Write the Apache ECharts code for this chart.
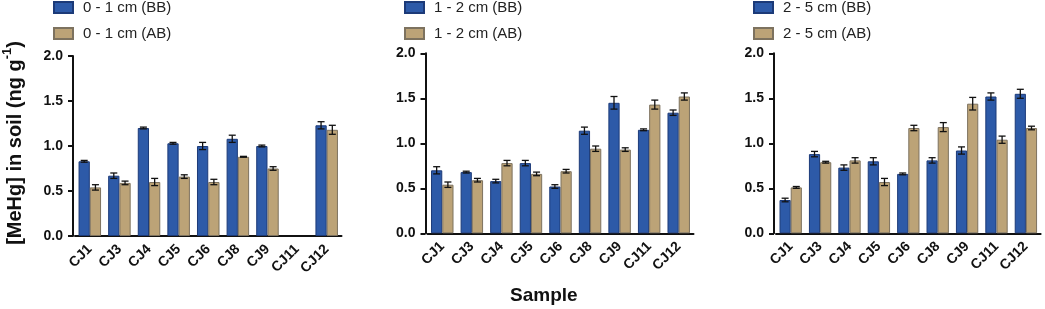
<!DOCTYPE html>
<html>
<head>
<meta charset="utf-8">
<script src="https://cdn.jsdelivr.net/npm/echarts@6/dist/echarts.min.js"></script>
<style>html,body{margin:0;padding:0;background:#fff}#c{width:1045px;height:309px}</style>
</head>
<body>
<div id="c"></div>
<script>
const categories = ['CJ1','CJ3','CJ4','CJ5','CJ6','CJ8','CJ9','CJ11','CJ12'];
const yTicks = [0, 0.5, 1.0, 1.5, 2.0];

const bb01    = [0.83, 0.67, 1.20, 1.03, 1.00, 1.08, 1.00, null, 1.23];
const bb01Err = [0.01, 0.03, 0.01, 0.01, 0.04, 0.04, 0.01, null, 0.04];
const ab01    = [0.54, 0.59, 0.60, 0.66, 0.60, 0.88, 0.75, null, 1.18];
const ab01Err = [0.03, 0.02, 0.04, 0.02, 0.03, 0.005, 0.02, null, 0.05];

const bb12    = [0.70, 0.68, 0.58, 0.78, 0.52, 1.14, 1.45, 1.15, 1.34];
const bb12Err = [0.04, 0.01, 0.02, 0.03, 0.02, 0.04, 0.07, 0.01, 0.03];
const ab12    = [0.54, 0.59, 0.78, 0.66, 0.69, 0.94, 0.93, 1.43, 1.52];
const ab12Err = [0.03, 0.02, 0.03, 0.02, 0.02, 0.03, 0.02, 0.05, 0.04];

const bb25    = [0.37, 0.88, 0.73, 0.80, 0.66, 0.81, 0.92, 1.52, 1.55];
const bb25Err = [0.02, 0.03, 0.03, 0.04, 0.01, 0.03, 0.04, 0.04, 0.05];
const ab25    = [0.51, 0.79, 0.81, 0.57, 1.17, 1.18, 1.44, 1.04, 1.17];
const ab25Err = [0.01, 0.01, 0.03, 0.04, 0.03, 0.05, 0.07, 0.04, 0.02];

const panels = [
  { bbName: '0 - 1 cm (BB)', abName: '0 - 1 cm (AB)', bb: bb01, bbErr: bb01Err, ab: ab01, abErr: ab01Err },
  { bbName: '1 - 2 cm (BB)', abName: '1 - 2 cm (AB)', bb: bb12, bbErr: bb12Err, ab: ab12, abErr: ab12Err },
  { bbName: '2 - 5 cm (BB)', abName: '2 - 5 cm (AB)', bb: bb25, bbErr: bb25Err, ab: ab25, abErr: ab25Err }
];

const FONT = '"Liberation Sans", Arial, Helvetica, sans-serif';
const BLUE = '#2d5aa8', BLUE_B = '#1c3a78';
const TAN = '#bca377', TAN_B = '#7d725f';
const GAP = 0.24;

const grids = [
  { left: 75, top: 56, width: 266.5, height: 180 },
  { left: 427.5, top: 53.3, width: 266, height: 180 },
  { left: 776, top: 53.3, width: 264.6, height: 180 }
];
const legendLeft = [53, 404, 753];

function errRender(side) {
  return function (params, api) {
    const i = api.value(0), v = api.value(1), e = api.value(2);
    if (v == null || isNaN(v)) return;
    const band = api.size([1, 0])[0];
    const bw = band * (1 - GAP) / 2;
    const x = api.coord([i, v])[0] + side * bw / 2;
    const yHi = api.coord([i, v + e])[1];
    const yLo = api.coord([i, v - e])[1];
    const cap = 3.5;
    const st = { stroke: '#111', lineWidth: 1.3 };
    return { type: 'group', children: [
      { type: 'line', shape: { x1: x, y1: yHi, x2: x, y2: yLo }, style: st },
      { type: 'line', shape: { x1: x - cap, y1: yHi, x2: x + cap, y2: yHi }, style: st },
      { type: 'line', shape: { x1: x - cap, y1: yLo, x2: x + cap, y2: yLo }, style: st }
    ]};
  };
}

const xAxes = [], yAxes = [], series = [], legends = [];
panels.forEach((p, k) => {
  xAxes.push({
    type: 'category', gridIndex: k, data: categories,
    axisLine: { lineStyle: { color: '#111', width: 2 } },
    axisTick: { alignWithLabel: true, length: 5, lineStyle: { color: '#111', width: 2 } },
    axisLabel: { interval: 0, rotate: 45, margin: 11, fontSize: 14, fontWeight: 'bold', color: '#111', fontFamily: FONT }
  });
  const ya = {
    type: 'value', gridIndex: k, min: yTicks[0], max: yTicks[yTicks.length - 1], interval: 0.5, offset: 2,
    axisLine: { show: true, lineStyle: { color: '#111', width: 2 } },
    axisTick: { show: true, length: 5, lineStyle: { color: '#111', width: 2 } },
    splitLine: { show: false },
    axisLabel: { margin: 10, fontSize: 14, fontWeight: 'bold', color: '#111', fontFamily: FONT, formatter: v => v.toFixed(1) }
  };
  if (k === 0) {
    ya.name = '{a|[MeHg] in soil (ng g}{s|-1}{a|)}';
    ya.nameLocation = 'middle';
    ya.nameGap = 48;
    ya.nameTextStyle = {
      padding: [0, 0, 0, 6],
      rich: {
        a: { fontSize: 20, fontWeight: 'bold', color: '#111', fontFamily: FONT, lineHeight: 24, verticalAlign: 'bottom' },
        s: { fontSize: 13, fontWeight: 'bold', color: '#111', fontFamily: FONT, lineHeight: 13, verticalAlign: 'top' }
      }
    };
  }
  yAxes.push(ya);
  series.push({
    type: 'bar', name: p.bbName, xAxisIndex: k, yAxisIndex: k, data: p.bb,
    barGap: '0%', barCategoryGap: (GAP * 100) + '%',
    itemStyle: { color: BLUE, borderColor: BLUE_B, borderWidth: 1 }
  });
  series.push({
    type: 'bar', name: p.abName, xAxisIndex: k, yAxisIndex: k, data: p.ab,
    barGap: '0%', barCategoryGap: (GAP * 100) + '%',
    itemStyle: { color: TAN, borderColor: TAN_B, borderWidth: 1 }
  });
  const mk = (vals, errs) => vals.map((v, i) => v == null ? [i, NaN, NaN] : [i, v, errs[i]]);
  series.push({ type: 'custom', xAxisIndex: k, yAxisIndex: k, z: 5, clip: false, silent: true,
    renderItem: errRender(-1), data: mk(p.bb, p.bbErr) });
  series.push({ type: 'custom', xAxisIndex: k, yAxisIndex: k, z: 5, clip: false, silent: true,
    renderItem: errRender(1), data: mk(p.ab, p.abErr) });
  legends.push({
    left: legendLeft[k], top: 0, padding: 0, orient: 'vertical', data: [p.bbName, p.abName],
    itemWidth: 19, itemHeight: 11, itemGap: 11, icon: 'rect',
    textStyle: { fontSize: 15, color: '#222', fontFamily: FONT, lineHeight: 15, padding: [0, 0, 0, 5] }
  });
});

const chart = echarts.init(document.getElementById('c'), null, { renderer: 'canvas' });
chart.setOption({
  animation: false,
  backgroundColor: '#fff',
  grid: grids,
  xAxis: xAxes,
  yAxis: yAxes,
  legend: legends,
  title: { text: 'Sample', left: 510, top: 286, padding: 0,
    textStyle: { fontSize: 19, fontWeight: 'bold', color: '#111', fontFamily: FONT } },
  series: series
});
</script>
</body>
</html>
